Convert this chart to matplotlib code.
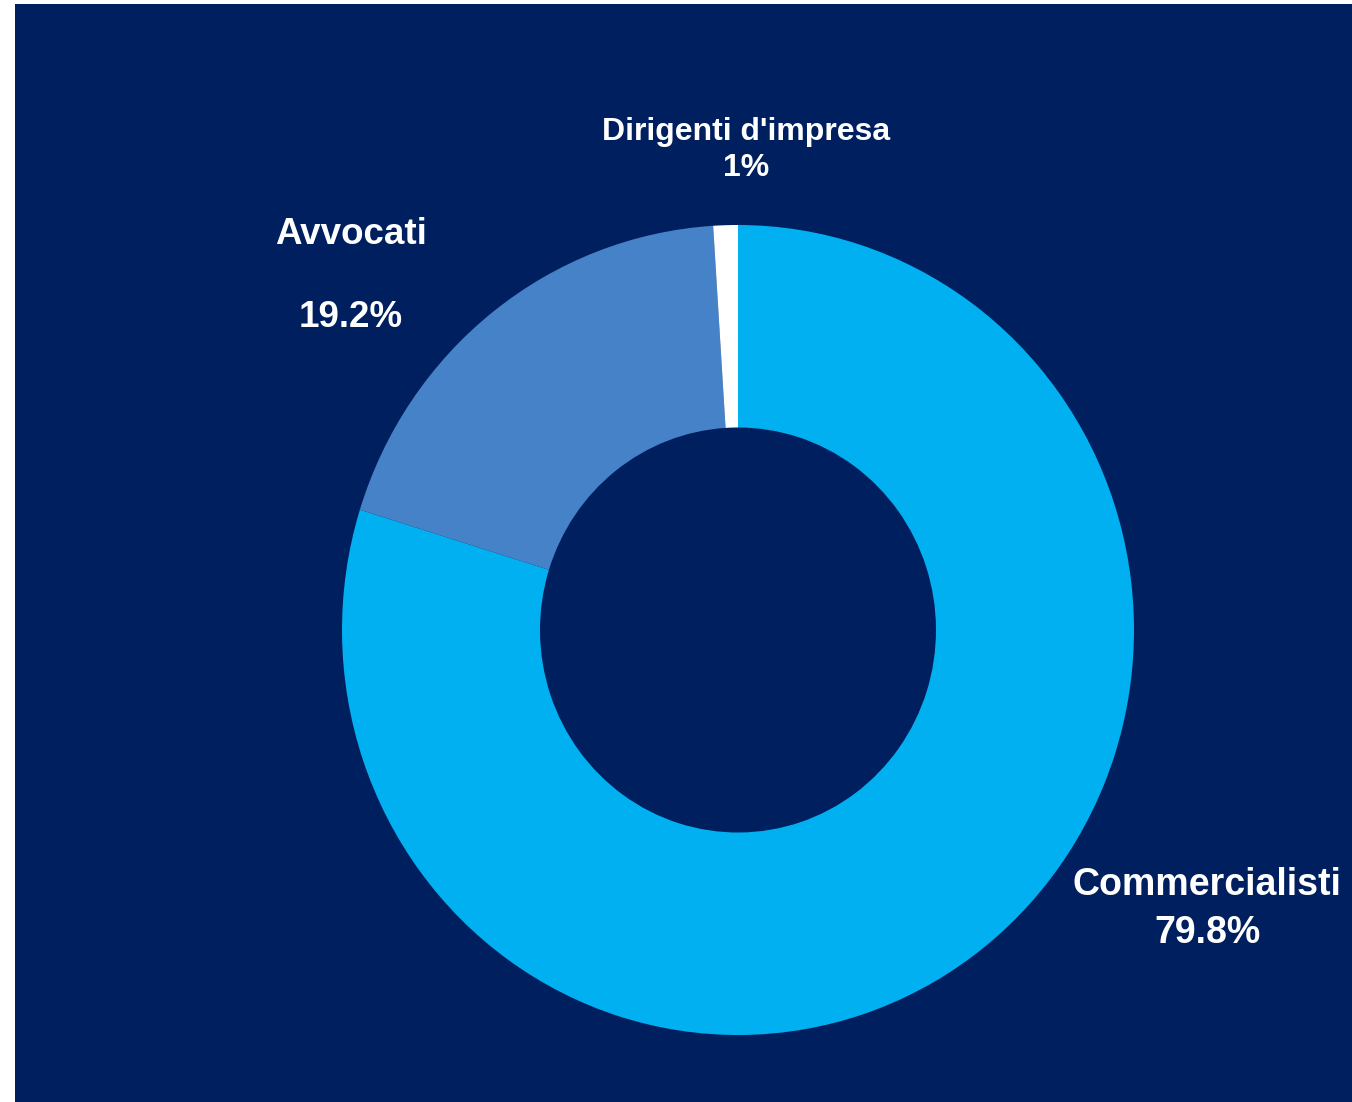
import numpy as np
import matplotlib
matplotlib.use("Agg")
import matplotlib.pyplot as plt

plt.rcParams['font.family'] = ['Liberation Sans', 'DejaVu Sans']

categories = ['Commercialisti', 'Avvocati', "Dirigenti d'impresa"]
shares = [79.8, 19.2, 1.0]
share_labels = ['79.8%', '19.2%', '1%']
colors = ['#00B0F0', '#4682C8', '#FFFFFF']
navy = '#001F5F'

W, H = 1352, 1102
fig = plt.figure(figsize=(W / 100, H / 100), dpi=100, facecolor='white')

# navy panel (small white margin on left and top)
bg = fig.add_axes([15 / W, 0, (W - 15) / W, (H - 4) / H])
bg.set_facecolor(navy)
bg.set_xticks([])
bg.set_yticks([])
for s in bg.spines.values():
    s.set_visible(False)

# donut axes: centre at (738, 630) px, radii 396 x 405 px
cx, cy, rx, ry = 738, 630, 396, 405
ax = fig.add_axes([(cx - rx) / W, (H - cy - ry) / H, 2 * rx / W, 2 * ry / H])
ax.patch.set_alpha(0)
ax.pie(shares, colors=colors, startangle=90, counterclock=False,
       wedgeprops=dict(width=0.5, edgecolor='none'))
ax.set_aspect('auto')
ax.set_xlim(-1, 1)
ax.set_ylim(-1, 1)
ax.axis('off')


def px(x, y):
    return (x - cx) / rx, (cy - y) / ry


kw = dict(color='white', fontweight='bold', ha='center', va='center', clip_on=False)
ax.text(*px(1207, 909), categories[0] + '\n' + share_labels[0], fontsize=27, linespacing=1.43, **kw)
ax.text(*px(351, 234.5), categories[1], fontsize=26.5, **kw)
ax.text(*px(351, 317.5), share_labels[1], fontsize=26.5, **kw)
ax.text(*px(746, 150), categories[2] + '\n' + share_labels[2], fontsize=23, linespacing=1.26, **kw)

fig.savefig('out.png', dpi=100, facecolor='white')
